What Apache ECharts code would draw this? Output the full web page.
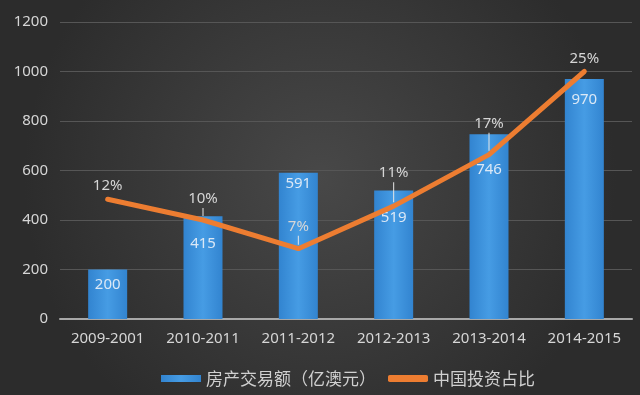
<!DOCTYPE html>
<html>
<head>
<meta charset="utf-8">
<style>html,body{margin:0;padding:0;background:#3a3a3a}#c{width:640px;height:395px}</style>
<script src="https://cdn.jsdelivr.net/npm/echarts@6/dist/echarts.min.js"></script>
</head>
<body>
<div id="c"></div>
<script>
const categories = ['2009-2001','2010-2011','2011-2012','2012-2013','2013-2014','2014-2015'];
const tradeValues = [200, 415, 591, 519, 746, 970];
const chinaShare = [12.1, 10, 7.1, 11.4, 16.6, 25];
const yTicks = [0, 200, 400, 600, 800, 1000, 1200];
const seriesNames = ['房产交易额（亿澳元）', '中国投资占比'];

// label nudges / leader lengths (layout only)
const barLabelDy = [0, 12, -4, 12, 20, 5];
const leaderLen = [0, 8, 9, 20, 18, 0];

const chart = echarts.init(document.getElementById('c'));
const font = 'Noto Sans, Noto Sans CJK SC, sans-serif';
const rich = {t: {color: '#d6d6d6', fontSize: 15, lineHeight: 18}};
leaderLen.forEach((h, i) => {
  rich['l' + i] = {width: 1, height: h, lineHeight: h, backgroundColor: '#e6e6e6'};
});
chart.setOption({
  backgroundColor: {
    type: 'radial', x: 0.5, y: 0.45, r: 0.75,
    colorStops: [{offset: 0, color: '#484848'}, {offset: 1, color: '#2c2c2c'}]
  },
  textStyle: {fontFamily: font},
  grid: {left: 60, right: 8, top: 22, bottom: 76},
  legend: {
    bottom: 3, left: 156, itemWidth: 40, itemHeight: 7, itemGap: 12,
    textStyle: {color: '#d0d0d0', fontSize: 17, fontFamily: 'Noto Sans CJK SC, sans-serif'},
    data: [
      {name: seriesNames[0], icon: 'rect'},
      {name: seriesNames[1], icon: 'roundRect', itemStyle: {color: '#ed7d31', opacity: 1}}
    ]
  },
  xAxis: {
    type: 'category', data: categories,
    axisLine: {lineStyle: {color: '#a8a8a8', width: 2}},
    axisTick: {show: false},
    axisLabel: {color: '#d6d6d6', fontSize: 15, margin: 12, interval: 0}
  },
  yAxis: [{
    type: 'value', min: yTicks[0], max: yTicks[yTicks.length - 1], interval: 200,
    axisLine: {show: false}, axisTick: {show: false},
    axisLabel: {color: '#d6d6d6', fontSize: 15, margin: 12, formatter: v => String(v)},
    splitLine: {lineStyle: {color: '#565656', width: 1}}
  }, {
    type: 'value', min: 0, max: 30, show: false, splitLine: {show: false}
  }],
  series: [{
    name: seriesNames[0], type: 'bar', data: tradeValues, barWidth: 39,
    itemStyle: {
      color: {type: 'linear', x: 0, y: 0, x2: 1, y2: 0,
        colorStops: [{offset: 0, color: '#3284d0'}, {offset: 0.5, color: '#469ce4'}, {offset: 1, color: '#3284d0'}]}
    },
    label: {show: true, position: 'insideTop', distance: 8, color: '#dbe8f6', fontSize: 15},
    labelLayout: p => ({dy: barLabelDy[p.dataIndex]}),
    z: 2
  }, {
    name: seriesNames[1], type: 'line', yAxisIndex: 1, data: chinaShare,
    showSymbol: true, symbol: 'circle', symbolSize: 0,
    lineStyle: {color: '#ed7d31', width: 5, cap: 'round'},
    itemStyle: {color: '#ed7d31'},
    label: {show: true, position: 'top', distance: 4, rich: rich,
      formatter: p => {
        const t = '{t|' + Math.round(p.value) + '%}';
        return leaderLen[p.dataIndex] ? t + '\n{l' + p.dataIndex + '|}' : t;
      }},
    z: 3
  }]
});
</script>
</body>
</html>
